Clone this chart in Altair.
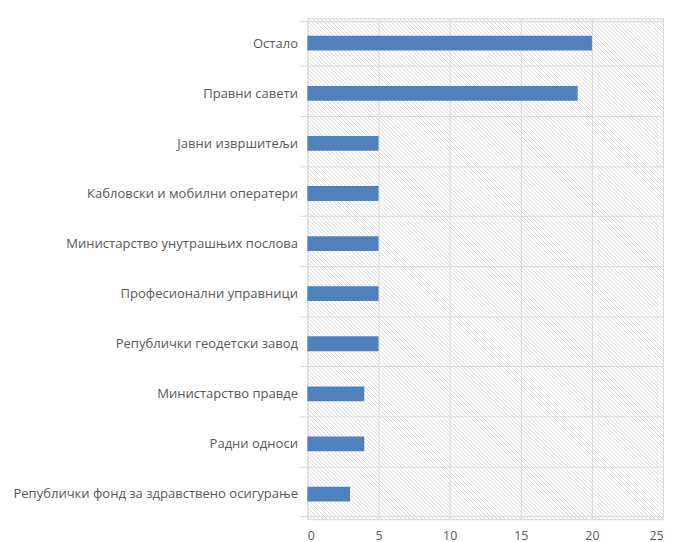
import altair as alt
import pandas as pd

categories = [
    "Остало ",
    "Правни савети",
    "Јавни извршитељи",
    "Кабловски и мобилни  оператери ",
    "Министарство унутрашњих послова",
    "Професионални управници",
    "Републички геодетски завод",
    "Министарство правде",
    "Радни односи ",
    "Републички фонд за здравствено осигурање",
]
values = [20, 19, 5, 5, 5, 5, 5, 4, 4, 3]
x_ticks = [0, 5, 10, 15, 20, 25]

df = pd.DataFrame({"category": categories, "value": values})

W, H = 360, 507
X_MAX = 25

# background hatch texture (decoration only): 45-degree lines, 4px apart
unit_px = W / X_MAX
step = 4 / unit_px
slant = H / unit_px
starts = []
k = -slant
while k < X_MAX:
    starts.append(k)
    k += step
hatch_df = pd.DataFrame({"x0": starts, "x1": [s + slant for s in starts]})

font = "Open Sans"
label_color = "#595959"
grid_color = "#d9d9d9"
xscale = alt.Scale(domain=[0, X_MAX], nice=False)
x_axis = alt.Axis(
    values=x_ticks, title=None, grid=True, gridColor=grid_color,
    domain=True, domainColor=grid_color, ticks=False,
    labelPadding=11, labelFont=font, labelFontSize=12.5,
    labelColor=label_color,
)

hatch = alt.Chart(hatch_df).mark_rule(
    color="#d4d4d4", strokeWidth=0.9, clip=True
).encode(
    x=alt.X("x0:Q", scale=xscale, axis=x_axis),
    x2="x1:Q",
    y=alt.datum(1, type="quantitative",
                scale=alt.Scale(domain=[0, 1], nice=False), axis=None),
    y2=alt.datum(0),
)

bars = alt.Chart(df).mark_bar(size=15, color="#4f81bd").encode(
    x=alt.X("value:Q", scale=xscale, axis=x_axis),
    y=alt.Y(
        "category:N",
        sort=None,
        axis=alt.Axis(
            title=None, grid=True, gridColor=grid_color, tickBand="extent",
            ticks=True, tickColor=grid_color, tickSize=8, domain=False,
            labelPadding=2, labelLimit=500, labelFont=font, labelFontSize=13.2,
            labelColor=label_color,
        ),
    ),
)

chart = (
    alt.layer(hatch, bars)
    .resolve_scale(y="independent")
    .properties(width=W, height=H, padding={"left": 5, "top": 0, "right": 5, "bottom": 5})
    .configure_view(stroke=None)
    .configure(background="white")
)

chart.save("out.html", embed_options={"renderer": "svg", "actions": False})
